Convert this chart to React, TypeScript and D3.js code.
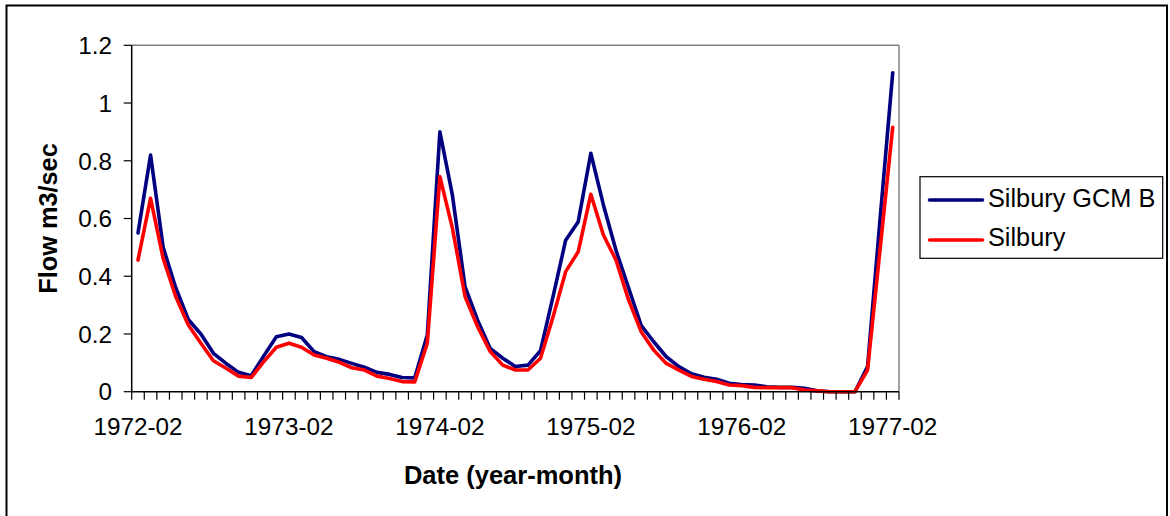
import React from 'react';
import * as d3 from 'd3';

// monthly categories, Feb 1972 .. Feb 1977
const months: string[] = d3
  .timeMonth.range(new Date(1972, 1, 1), new Date(1977, 2, 1))
  .map(d => d3.timeFormat('%Y-%m')(d));

const tickLabels = ['1972-02', '1973-02', '1974-02', '1975-02', '1976-02', '1977-02'];
const yTicks = [0, 0.2, 0.4, 0.6, 0.8, 1, 1.2];

const gcmB = [
  0.55, 0.82, 0.5, 0.36, 0.25, 0.2, 0.133, 0.098, 0.067, 0.055, 0.124, 0.19,
  0.2, 0.188, 0.139, 0.121, 0.112, 0.098, 0.085, 0.067, 0.06, 0.049, 0.048, 0.196,
  0.9, 0.68, 0.364, 0.248, 0.15, 0.116, 0.087, 0.092, 0.142, 0.33, 0.525, 0.589,
  0.826, 0.647, 0.49, 0.36, 0.23, 0.173, 0.121, 0.087, 0.062, 0.05, 0.043, 0.029,
  0.025, 0.023, 0.017, 0.015, 0.015, 0.012, 0.003, 0, 0, 0, 0.087, 0.6,
  1.105,
];

const silbury = [
  0.456, 0.67, 0.462, 0.33, 0.231, 0.168, 0.107, 0.081, 0.054, 0.049, 0.104, 0.154,
  0.168, 0.154, 0.127, 0.116, 0.102, 0.083, 0.075, 0.054, 0.046, 0.035, 0.034, 0.168,
  0.745, 0.566, 0.33, 0.225, 0.139, 0.092, 0.075, 0.075, 0.116, 0.26, 0.416, 0.485,
  0.684, 0.543, 0.456, 0.318, 0.208, 0.144, 0.098, 0.075, 0.053, 0.043, 0.035, 0.023,
  0.021, 0.015, 0.014, 0.014, 0.014, 0.006, 0.003, 0, 0, 0, 0.075, 0.495,
  0.916,
];

const seriesNames = ['Silbury GCM B', 'Silbury'];
const seriesColors = ['#000080', '#ff0000'];

const W = 1170;
const H = 516;
const left = 131.7;
const right = 899;
const top = 45.3;
const bottom = 391.7;
const font = 'Arial, "Liberation Sans", sans-serif';

const App: React.FC = () => {
  const x = d3.scaleBand<string>().domain(months).range([left, right]);
  const y = d3.scaleLinear().domain([0, 1.2]).range([bottom, top]);
  const cx = (m: string) => (x(m) || 0) + x.bandwidth() / 2;

  const line = d3
    .line<number>()
    .x((_, i) => cx(months[i]))
    .y(d => y(d));

  const boundaries = months.map(m => x(m) || 0).concat([right]);

  return (
    <svg width={W} height={H} style={{ position: 'absolute', left: 0, top: 0, background: '#fff' }}>
      <rect x={6.5} y={5.5} width={1160.5} height={520} fill="#fff" stroke="#000" strokeWidth={2} />

      {/* plot frame */}
      <line x1={left} x2={right} y1={top} y2={top} stroke="#808080" strokeWidth={1.5} />
      <line x1={right} x2={right} y1={top} y2={bottom} stroke="#808080" strokeWidth={1.5} />

      {/* series */}
      {[gcmB, silbury].map((s, i) => (
        <path
          key={seriesNames[i]}
          d={line(s) || ''}
          fill="none"
          stroke={seriesColors[i]}
          strokeWidth={3.6}
          strokeLinejoin="round"
          strokeLinecap="round"
        />
      ))}

      {/* y axis */}
      <line x1={left} x2={left} y1={top} y2={bottom} stroke="#000" strokeWidth={1.5} />
      {yTicks.map(t => (
        <g key={t}>
          <line x1={left - 8} x2={left} y1={y(t)} y2={y(t)} stroke="#000" strokeWidth={1.2} />
          <text
            x={112}
            y={y(t)}
            dy="0.36em"
            textAnchor="end"
            fontFamily={font}
            fontSize={24.3}
            fill="#000"
          >
            {d3.format('~g')(t)}
          </text>
        </g>
      ))}

      {/* x axis */}
      <line x1={left} x2={right} y1={bottom} y2={bottom} stroke="#000" strokeWidth={1.5} />
      {boundaries.map((b, i) => (
        <line key={i} x1={b} x2={b} y1={bottom} y2={bottom + 8} stroke="#000" strokeWidth={1.2} />
      ))}
      {tickLabels.map(t => (
        <text
          key={t}
          x={cx(t)}
          y={435}
          textAnchor="middle"
          fontFamily={font}
          fontSize={24.3}
          fill="#000"
        >
          {t}
        </text>
      ))}

      {/* axis titles */}
      <text x={513} y={484} textAnchor="middle" fontFamily={font} fontSize={25.5} fontWeight="bold">
        Date (year-month)
      </text>
      <text
        transform="translate(57,218.5) rotate(-90)"
        textAnchor="middle"
        fontFamily={font}
        fontSize={25.3}
        fontWeight="bold"
      >
        Flow m3/sec
      </text>

      {/* legend */}
      <rect x={920} y={176.7} width={242.7} height={81.6} fill="#fff" stroke="#000" strokeWidth={1.2} />
      {seriesNames.map((n, i) => (
        <g key={n}>
          <line
            x1={929.5}
            x2={982.5}
            y1={200 + i * 40}
            y2={200 + i * 40}
            stroke={seriesColors[i]}
            strokeWidth={3.6}
            strokeLinecap="round"
          />
          <text x={988} y={206.5 + i * 39.7} fontFamily={font} fontSize={25.3} fill="#000">
            {n}
          </text>
        </g>
      ))}
    </svg>
  );
};

export default App;
